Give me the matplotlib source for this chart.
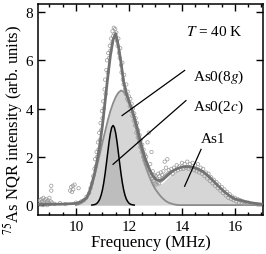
import numpy as np
import matplotlib
matplotlib.use("Agg")
import matplotlib.pyplot as plt
from matplotlib.ticker import MultipleLocator

plt.rcParams['font.family'] = ['Liberation Serif', 'DejaVu Serif']
plt.rcParams['mathtext.fontset'] = 'stix'

# measured spectrum (MHz, arb. units)
data_f = [8.62, 8.65, 8.68, 8.70, 8.72, 8.75, 8.77, 8.80, 8.82, 8.85, 8.87, 8.90, 8.92,
          8.95, 8.97, 9.00, 9.02, 9.05, 9.07, 9.07, 9.10, 9.20, 9.40, 9.60, 9.78, 9.82,
          9.85, 9.88, 9.90, 9.95, 10.00, 10.10, 10.20, 10.30, 10.40, 10.50,
          10.55, 10.60, 10.65, 10.70, 10.72, 10.75, 10.78, 10.80, 10.83, 10.85, 10.88,
          10.90, 10.93, 10.95, 10.98, 11.00, 11.03, 11.05, 11.08, 11.10, 11.12, 11.15,
          11.17, 11.20, 11.22, 11.25, 11.28, 11.30, 11.33, 11.35, 11.38, 11.40, 11.43,
          11.45, 11.48, 11.50, 11.52, 11.55, 11.57, 11.60, 11.62, 11.65, 11.67, 11.70,
          11.72, 11.75, 11.77, 11.80, 11.82, 11.85, 11.88, 11.90, 11.93, 11.95, 11.98,
          12.00, 12.03, 12.05, 12.08, 12.10, 12.13, 12.15, 12.18, 12.20, 12.23, 12.25,
          12.28, 12.30, 12.33, 12.35, 12.38, 12.40, 12.43, 12.45, 12.48, 12.50, 12.53,
          12.55, 12.58, 12.60, 12.63, 12.65, 12.68, 12.70, 12.72, 12.75, 12.78, 12.80,
          12.83, 12.85, 12.88, 12.90, 12.93, 12.95, 12.98, 13.00, 13.03, 13.05, 13.08,
          13.10, 13.13, 13.15, 13.18, 13.20, 13.23, 13.25, 13.28, 13.30, 13.33, 13.35,
          13.38, 13.40, 13.43, 13.45, 13.48, 13.50, 13.55, 13.60, 13.65, 13.70, 13.75,
          13.80, 13.85, 13.90, 13.95, 14.00, 14.05, 14.10, 14.15, 14.20, 14.25, 14.30,
          14.35, 14.40, 14.45, 14.50, 14.55, 14.60, 14.65, 14.70, 14.75, 14.80, 14.85,
          14.90, 14.95, 15.00, 15.05, 15.10, 15.15, 15.20, 15.25, 15.30, 15.35, 15.40,
          15.45, 15.50, 15.55, 15.60, 15.65, 15.70, 15.75, 15.80, 15.85, 15.90, 15.95,
          16.00, 16.05, 16.10, 16.15, 16.20, 16.25, 16.30, 16.35, 16.40, 16.45, 16.50]
data_v = [0.10, 0.20, 0.05, 0.25, 0.15, 0.00, 0.30, 0.10, 0.20, 0.05, 0.25, 0.15, 0.00,
          0.20, 0.10, 0.30, 0.05, 0.15, 0.80, 0.60, 0.10, 0.05, 0.08, 0.04, 0.60, 0.75,
          0.55, 0.80, 0.65, 0.85, 0.10, 0.70, 0.15, 0.20, 0.35, 0.50,
          0.70, 0.90, 1.20, 1.50, 1.90, 1.60, 2.20, 2.00, 2.60, 2.30, 3.00,
          2.70, 3.40, 3.10, 3.90, 3.60, 4.30, 4.00, 4.80, 5.20, 4.60, 5.60,
          6.00, 5.50, 6.30, 6.10, 6.60, 6.40, 6.90, 6.70, 7.20, 7.00, 7.35,
          7.10, 7.30, 6.95, 7.15, 6.80, 6.60, 6.90, 6.30, 6.10, 6.50, 5.80,
          5.50, 5.90, 5.20, 5.00, 5.40, 4.80, 4.60, 5.00, 4.40, 4.70, 4.30,
          4.50, 4.10, 4.40, 3.90, 4.20, 3.70, 4.00, 3.50, 3.80, 3.30, 3.60,
          3.00, 3.40, 2.80, 3.10, 2.60, 2.90, 2.40, 2.70, 2.20, 2.50, 2.00,
          2.30, 1.85, 2.10, 1.70, 2.00, 1.55, 2.60, 1.50, 3.00, 1.35, 1.70,
          1.20, 2.20, 1.10, 1.40, 1.00, 1.25, 0.90, 1.20, 0.85, 1.10, 0.95,
          1.30, 0.90, 1.20, 1.00, 1.35, 1.05, 1.25, 1.10, 1.40, 1.15, 1.80,
          1.20, 1.55, 1.25, 1.90, 1.30, 1.45, 1.35, 1.50, 1.30, 1.55, 1.40,
          1.65, 1.45, 1.60, 1.50, 1.75, 1.50, 1.70, 1.55, 1.80, 1.50, 1.70,
          1.55, 1.75, 1.45, 1.65, 1.40, 1.70, 1.35, 1.55, 1.30, 1.50, 1.20,
          1.35, 1.10, 1.30, 1.00, 1.15, 0.90, 1.05, 0.80, 0.95, 0.70, 0.85,
          0.60, 0.75, 0.50, 0.65, 0.40, 0.55, 0.30, 0.45, 0.25, 0.35, 0.20,
          0.30, 0.15, 0.25, 0.10, 0.20, 0.10, 0.15, 0.05, 0.12, 0.05, 0.10]

# total fit
tot_f = [8.6, 9.0, 9.5, 10.0, 10.2, 10.4, 10.5, 10.6, 10.7, 10.8, 10.9, 11.0, 11.1, 11.2,
         11.3, 11.4, 11.5, 11.6, 11.7, 11.8, 11.9, 12.0, 12.1, 12.2, 12.3, 12.4, 12.5,
         12.6, 12.7, 12.8, 12.9, 13.0, 13.1, 13.2, 13.3, 13.4, 13.5, 13.6, 13.8, 14.0,
         14.2, 14.4, 14.6, 14.8, 15.0, 15.2, 15.4, 15.6, 15.8, 16.0, 16.2, 16.4, 16.7, 17.0]
tot_v = [0.03, 0.03, 0.04, 0.07, 0.14, 0.30, 0.52, 0.88, 1.30, 1.85, 2.50, 3.30, 4.30, 5.30,
         6.20, 6.85, 7.10, 6.60, 5.90, 5.10, 4.65, 4.30, 4.00, 3.65, 3.25, 2.80, 2.35,
         1.98, 1.68, 1.42, 1.22, 1.08, 1.02, 1.02, 1.08, 1.18, 1.28, 1.38, 1.50, 1.58,
         1.60, 1.57, 1.50, 1.38, 1.20, 0.98, 0.76, 0.55, 0.38, 0.25, 0.20, 0.14, 0.08, 0.04]

# components on a 0.1 MHz grid, 10.0 ... 17.0
grid = np.round(np.arange(10.0, 17.001, 0.1), 2)
g8 = [0.0, 0.03, 0.08, 0.16, 0.25, 0.48, 0.80, 1.20, 1.65, 2.10, 2.60, 3.05, 3.50, 3.90,
      4.22, 4.48, 4.66, 4.75, 4.70, 4.55, 4.30, 3.95, 3.50, 3.00, 2.50, 2.15, 1.70,
      1.38, 1.10, 0.85, 0.65, 0.50, 0.36, 0.25, 0.16, 0.10, 0.06, 0.03, 0.01] + [0.0] * 32
as1 = [0.0] * 20 + [0.02, 0.04, 0.06, 0.08, 0.10, 0.12, 0.15, 0.18, 0.22, 0.27, 0.32,
      0.40, 0.52, 0.70, 0.90, 1.08, 1.22, 1.30, 1.38, 1.46, 1.52, 1.56, 1.58, 1.57,
      1.54, 1.50, 1.45, 1.38, 1.30, 1.20, 1.10, 0.99, 0.88, 0.77, 0.66, 0.56, 0.46,
      0.38, 0.30, 0.24, 0.18, 0.14, 0.10, 0.07, 0.05, 0.03, 0.02, 0.01, 0.0, 0.0, 0.0]

c2_f = [10.6, 10.7, 10.75, 10.8, 10.85, 10.9, 10.95, 11.0, 11.05, 11.1, 11.15, 11.2, 11.25,
        11.3, 11.35, 11.4, 11.45, 11.5, 11.55, 11.6, 11.65, 11.7, 11.75, 11.8, 11.85,
        11.9, 11.95, 12.0, 12.05, 12.1, 12.2]
c2_v = [0.0, 0.02, 0.04, 0.08, 0.15, 0.25, 0.41, 0.63, 0.93, 1.30, 1.73, 2.18, 2.62,
        2.98, 3.22, 3.30, 3.22, 2.98, 2.62, 2.18, 1.73, 1.30, 0.93, 0.63, 0.41,
        0.25, 0.15, 0.08, 0.04, 0.02, 0.0]

fig = plt.figure(figsize=(2.66, 2.55), dpi=100)
ax = fig.add_axes([0.143, 0.153, 0.846, 0.827])

ax.fill_between(grid, 0, np.array(g8) + np.array(as1), color='#d6d6d6', lw=0, zorder=1)
ax.fill_between(c2_f, 0, c2_v, color='#bdbdbd', lw=0, zorder=2)
ax.plot(grid, g8, color='#8c8c8c', lw=1.3, zorder=3)
ax.plot(c2_f, c2_v, color='black', lw=1.1, zorder=3)
ax.scatter(data_f, data_v, s=6, facecolors='none', edgecolors='#9a9a9a', linewidths=0.5, zorder=4)
ax.plot(tot_f, tot_v, color='#727272', lw=2.0, zorder=5)

# labels with pointer lines
ax.text(14.15, 7.2, '$T$ = 40 K', fontsize=11, va='center')
ax.text(14.4, 5.35, 'As0(8$g$)', fontsize=11, va='center')
ax.text(14.4, 4.1, 'As0(2$c$)', fontsize=11, va='center')
ax.text(14.7, 2.75, 'As1', fontsize=11, va='center')
ax.plot([11.74, 14.1], [3.71, 5.58], color='black', lw=0.9, zorder=6)
ax.plot([11.4, 14.15], [1.69, 4.33], color='black', lw=0.9, zorder=6)
ax.plot([14.1, 14.72], [0.78, 2.31], color='black', lw=0.9, zorder=6)

ax.set_xlim(8.57, 17.06)
ax.set_ylim(-0.41, 8.33)
ax.set_xticks([10, 12, 14, 16])
ax.set_yticks([0, 2, 4, 6, 8])
ax.xaxis.set_minor_locator(MultipleLocator(0.5))
ax.tick_params(which='both', direction='in', top=True, right=True, labelsize=11, width=1)
ax.tick_params(which='major', length=5)
ax.tick_params(which='minor', length=2.5)
for s in ax.spines.values():
    s.set_linewidth(1.1)

ax.set_xlabel('Frequency (MHz)', fontsize=12, labelpad=1)
ax.set_ylabel('$^{75}$As NQR intensity (arb. units)', fontsize=12)
ax.yaxis.set_label_coords(-0.058, 0.41)

fig.savefig('out.png', dpi=100)
